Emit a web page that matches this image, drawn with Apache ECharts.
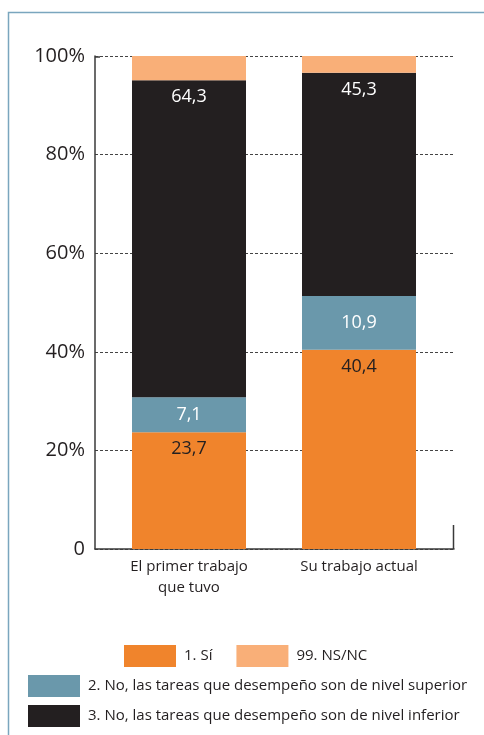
<!DOCTYPE html>
<html><head><meta charset="utf-8">
<script src="https://cdn.jsdelivr.net/npm/echarts@6/dist/echarts.min.js"></script>
<style>html,body{margin:0;padding:0;background:#fff}#c{width:484px;height:735px}</style>
</head><body><div id="c"></div>
<script>
const categories = ['El primer trabajo\nque tuvo', 'Su trabajo actual'];
const yTicks = [0, 20, 40, 60, 80, 100];
const seriesNames = ['1. Sí', '2. No, las tareas que desempeño son de nivel superior', '3. No, las tareas que desempeño son de nivel inferior', '99. NS/NC'];
const si = [23.7, 40.4];
const superior = [7.1, 10.9];
const inferior = [64.3, 45.3];
const nsnc = [4.9, 3.4];
const colors = ['#F0842C', '#6A98AB', '#231F20', '#F9AF78'];
const labelColors = ['#231F20', '#ffffff', '#ffffff', '#231F20'];
const values = [si, superior, inferior, nsnc];
const FONT = '"Open Sans", "Noto Sans", sans-serif';

const chart = echarts.init(document.getElementById('c'));
const series = values.map((v, i) => ({
  name: seriesNames[i], type: 'bar', stack: 't', xAxisIndex: 1, yAxisIndex: 1,
  barWidth: 114, data: v,
  itemStyle: { color: colors[i] },
  label: {
    show: i !== 3, position: i === 1 ? 'inside' : 'insideTop',
    distance: 8, color: labelColors[i], fontSize: 18, fontFamily: FONT,
    formatter: p => String(p.value).replace('.', ',')
  }
}));

const legendText = { color: '#231F20', fontSize: 15, fontFamily: FONT, padding: [0, 0, 0, 3] };
chart.setOption({
  animation: false,
  grid: [
    { left: 95, top: 56, width: 359, height: 493 },
    { left: 104, top: 56, width: 340, height: 493 }
  ],
  xAxis: [
    { gridIndex: 0, type: 'category', data: categories, axisLabel: { show: false }, axisTick: { show: false },
      axisLine: { lineStyle: { color: '#3a3a3a', width: 1.5 } } },
    { gridIndex: 1, type: 'category', data: categories, axisLine: { show: false }, axisTick: { show: false },
      axisLabel: { margin: 7, color: '#231F20', fontSize: 15, lineHeight: 21, fontFamily: FONT } }
  ],
  yAxis: [
    { gridIndex: 0, type: 'value', min: 0, max: 100, interval: 20,
      axisLine: { show: true, lineStyle: { color: '#3a3a3a', width: 1.5 } }, axisTick: { show: false },
      splitLine: { show: true, lineStyle: { type: [3, 2], color: '#444', width: 1 } },
      axisLabel: { margin: 10, color: '#231F20', fontSize: 20, fontFamily: FONT, padding: [6, 0, 0, 0],
        formatter: v => yTicks.includes(v) ? (v === 0 ? '0' : v + '%') : '' } },
    { gridIndex: 1, type: 'value', min: 0, max: 100, interval: 20, show: false, splitLine: { show: false } }
  ],
  legend: [
    { data: [seriesNames[0], seriesNames[3]], left: 119, top: 640, orient: 'horizontal',
      itemWidth: 52, itemHeight: 22, itemGap: 24, icon: 'rect', textStyle: legendText, selectedMode: false },
    { data: [seriesNames[1]], left: 23, top: 670, itemWidth: 52, itemHeight: 22, icon: 'rect',
      textStyle: legendText, selectedMode: false },
    { data: [seriesNames[2]], left: 23, top: 700, itemWidth: 52, itemHeight: 22, icon: 'rect',
      textStyle: legendText, selectedMode: false }
  ],
  graphic: [
    { type: 'rect', shape: { x: 8.5, y: 12.5, width: 700, height: 900 }, style: { fill: null, stroke: '#7AA6BE', lineWidth: 1.5 }, silent: true },
    { type: 'line', shape: { x1: 95, y1: 57, x2: 100, y2: 57 }, style: { stroke: '#3a3a3a', lineWidth: 1.5 } },
    { type: 'line', shape: { x1: 453.5, y1: 549, x2: 453.5, y2: 525 }, style: { stroke: '#3a3a3a', lineWidth: 1.5 } }
  ],
  series: series
});
</script></body></html>
